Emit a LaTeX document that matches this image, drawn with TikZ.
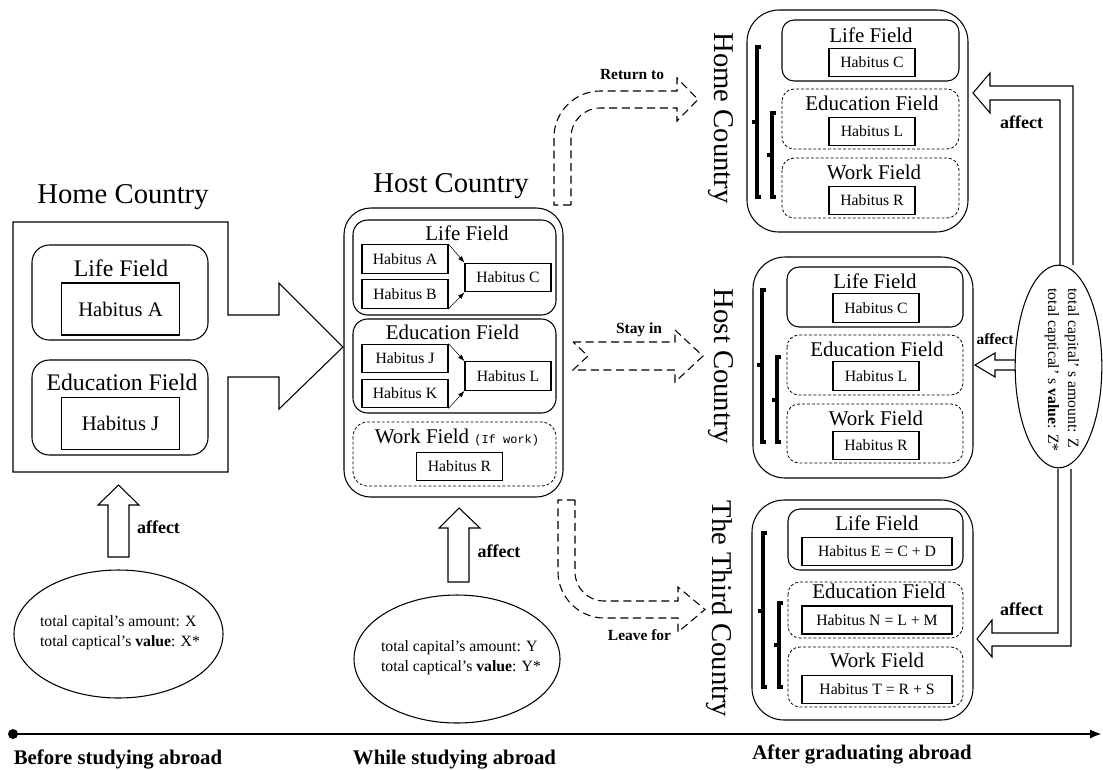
\documentclass[tikz,border=0pt]{standalone}
\usepackage{fontspec}
\setmainfont{Liberation Serif}
\setmonofont{Liberation Mono}
\usetikzlibrary{arrows.meta,shapes.geometric,positioning}

\begin{document}
\begin{tikzpicture}[x=0.75pt,y=-0.75pt,
    line width=0.8pt,
    ttl/.style={font=\fontsize{21.5}{24}\selectfont,anchor=base},
    bigfld/.style={font=\fontsize{17.8}{20}\selectfont,anchor=base},
    fld/.style={font=\fontsize{15.7}{18}\selectfont,anchor=base},
    fieldbox/.style={draw,rounded corners=9pt},
    dfieldbox/.style={draw,rounded corners=9pt,dash pattern=on 2.2pt off 1.5pt,
                      line width=0.6pt},
    hab/.style={draw,inner sep=0pt,minimum width=64.5pt,minimum height=21.5pt,
                font=\fontsize{11.8}{13}\selectfont},
    bighab/.style={hab,minimum width=89pt,minimum height=39pt,
                   font=\fontsize{15.5}{17}\selectfont},
    widehab/.style={hab,minimum width=112.5pt,minimum height=21pt},
    merge/.style={-{Latex[length=5pt,width=3.5pt]},line width=0.4pt},
    capt/.style={font=\fontsize{11.8}{15}\selectfont,align=left},
    oval/.style={draw,ellipse,inner sep=0pt},
    lbl/.style={font=\bfseries\fontsize{13.5}{15}\selectfont,anchor=base},
    mv/.style={font=\bfseries\fontsize{11.6}{13}\selectfont,anchor=base},
    phase/.style={font=\bfseries\fontsize{15.6}{18}\selectfont,anchor=base},
    blk/.style={draw,line width=0.8pt},
    dblk/.style={draw,dash pattern=on 6pt off 3.5pt,line width=0.8pt},
    brk/.style={draw,line width=2.3pt}
  ]
  \useasboundingbox (0,0) rectangle (1103,769);

  % before studying abroad
  \node[ttl] (homeT) at (123,203) {Home Country};
  \draw[blk] (13,222) -- (228,222) -- (228,315) -- (279,315) -- (279,283)
    -- (343,347) -- (279,409) -- (279,377) -- (228,377) -- (228,472)
    -- (13,472) -- cycle;
  \draw[fieldbox,rounded corners=13pt] (32,245) rectangle (208,340);
  \node[bigfld] (homeLife) at (121,276) {Life Field};
  \node[bighab] (homeA) at (120.5,309) {Habitus A};
  \draw[fieldbox,rounded corners=13pt] (32,360) rectangle (208,455);
  \node[bigfld] (homeEdu) at (122,390) {Education Field};
  \node[bighab] (homeJ) at (120.5,423.5) {Habitus J};

  \draw[blk] (108,557) -- (108,505) -- (98,505) -- (118.5,485) -- (139,505)
    -- (129,505) -- (129,557) -- cycle;
  \node[lbl] (affX) at (158.5,533) {affect};
  \node[oval,minimum width=156.75pt,minimum height=96pt] (capX) at (118.5,634) {};
  \node[capt] (capXt) at (120,633)
    {total capital’s amount: X\\total captical’s \textbf{value}: X*};

  % while studying abroad
  \node[ttl] (hostT) at (451,192) {Host Country};
  \draw[fieldbox,rounded corners=20pt] (344,208) rectangle (563,497);
  \draw[fieldbox,rounded corners=11pt] (353,220) rectangle (556,315);
  \node[fld] (hostLife) at (467,240) {Life Field};
  \node[hab] (hA) at (405,259) {Habitus A};
  \node[hab] (hB) at (405,294) {Habitus B};
  \node[hab] (hC) at (508,277.5) {Habitus C};
  \draw[merge] (hA.north east) -- (hC.north west);
  \draw[merge] (hB.south east) -- (hC.south west);
  \draw[fieldbox,rounded corners=11pt] (353,319) rectangle (556,413);
  \node[fld] (hostEdu) at (452.5,339) {Education Field};
  \node[hab] (hJ) at (405,358.5) {Habitus J};
  \node[hab] (hK) at (405,393.5) {Habitus K};
  \node[hab] (hL) at (508,376) {Habitus L};
  \draw[merge] (hJ.north east) -- (hL.north west);
  \draw[merge] (hK.south east) -- (hL.south west);
  \draw[dfieldbox,rounded corners=11pt] (353,422) rectangle (556,486);
  \node[fld] (hostWork) at (457,443)
    {Work Field {\ttfamily\fontsize{9}{10}\selectfont(If work)}};
  \node[hab] (hR) at (459.5,466.5) {Habitus R};

  \draw[blk] (448,582) -- (448,528) -- (439,528) -- (459,508) -- (480,528)
    -- (469,528) -- (469,582) -- cycle;
  \node[lbl] (affY) at (499,557) {affect};
  \node[oval,minimum width=154.5pt,minimum height=96pt] (capY) at (457,659) {};
  \node[capt] (capYt) at (461,658)
    {total capital’s amount: Y\\total captical’s \textbf{value}: Y*};

  % three ways out
  \draw[dblk] (571,205) -- (554,205) -- (554,137)
    .. controls (554,112) and (575,91) .. (600,91) -- (677,91) -- (677,78)
    -- (698,99.5) -- (677,121) -- (677,108) -- (600,108)
    .. controls (584,108) and (571,121) .. (571,137) -- cycle;
  \node[mv] (retL) at (632,79) {Return to};
  \draw[dblk] (573,342) -- (675,342) -- (675,330) -- (703,356) -- (675,382)
    -- (675,370) -- (573,370) -- (588,356) -- cycle;
  \node[mv] (stayL) at (639,333) {Stay in};
  \draw[dblk] (575,500) -- (558,500) -- (558,572)
    .. controls (558,597) and (579,618) .. (604,618) -- (678,618) -- (678,632)
    -- (705,609.5) -- (678,587) -- (678,601) -- (604,601)
    .. controls (588,601) and (575,588) .. (575,572) -- cycle;
  \node[mv] (leaveL) at (639.5,640) {Leave for};

  % after graduating abroad: home country
  \node[ttl,rotate=-90] (retT) at (714,118) {Home Country};
  \draw[fieldbox,rounded corners=24pt] (747,10) rectangle (968,232);
  \draw[fieldbox] (782,20) rectangle (959,81);
  \node[fld] (r1Life) at (871,42) {Life Field};
  \node[hab] (r1C) at (872,62.5) {Habitus C};
  \draw[dfieldbox] (782,89) rectangle (959,149);
  \node[fld] (r1Edu) at (872,110) {Education Field};
  \node[hab] (r1L) at (872,131.5) {Habitus L};
  \draw[dfieldbox] (782,158) rectangle (959,218);
  \node[fld] (r1Work) at (874,179) {Work Field};
  \node[hab] (r1R) at (872,200.5) {Habitus R};
  \draw[brk] (761,47) -- (757,47) -- (757,197) -- (761,197) (757,122) -- (752,122);
  \draw[brk] (776,113) -- (772,113) -- (772,197) -- (776,197) (772,155) -- (767,155);

  % host country
  \node[ttl,rotate=-90] (stayT) at (714,366.5) {Host Country};
  \draw[fieldbox,rounded corners=24pt] (753,257) rectangle (973,478);
  \draw[fieldbox] (787,267) rectangle (963,327);
  \node[fld] (r2Life) at (875,288) {Life Field};
  \node[hab] (r2C) at (876,308) {Habitus C};
  \draw[dfieldbox] (787,335) rectangle (963,395);
  \node[fld] (r2Edu) at (877,356) {Education Field};
  \node[hab] (r2L) at (876,376) {Habitus L};
  \draw[dfieldbox] (787,404) rectangle (963,463);
  \node[fld] (r2Work) at (876,425) {Work Field};
  \node[hab] (r2R) at (876,445.5) {Habitus R};
  \draw[brk] (766,290) -- (762,290) -- (762,442) -- (766,442) (762,365) -- (757,365);
  \draw[brk] (781,357) -- (777,357) -- (777,442) -- (781,442) (777,400) -- (772,400);

  % the third country
  \node[ttl,rotate=-90] (leaveT) at (712,609) {The Third Country};
  \draw[fieldbox,rounded corners=24pt] (752,500) rectangle (973,720);
  \draw[fieldbox] (788,509) rectangle (963,570);
  \node[fld] (r3Life) at (877,530) {Life Field};
  \node[widehab] (r3E) at (877,551.5) {Habitus E = C + D};
  \draw[dfieldbox] (788,582) rectangle (963,638);
  \node[fld] (r3Edu) at (879,598) {Education Field};
  \node[widehab] (r3N) at (877,620) {Habitus N = L + M};
  \draw[dfieldbox] (788,647) rectangle (963,707);
  \node[fld] (r3Work) at (877,667) {Work Field};
  \node[widehab] (r3T) at (877,689.5) {Habitus T = R + S};
  \draw[brk] (767,533) -- (763,533) -- (763,687) -- (767,687) (763,611) -- (758,611);
  \draw[brk] (783,603) -- (779,603) -- (779,687) -- (783,687) (779,645) -- (774,645);

  % capital after graduating
  \node[oval,minimum width=65pt,minimum height=152pt] (capZ) at (1058.5,366.5) {};
  \node[capt,rotate=-90] (capZt) at (1062,370)
    {total capital’ s amount: Z\\total captical’ s \textbf{value}: Z*};
  \draw[blk] (1060,265) -- (1060,100) -- (990,100) -- (990,113) -- (973,93)
    -- (990,73) -- (990,86) -- (1073,86) -- (1073,265);
  \node[lbl] (affZ1) at (1021.5,128) {affect};
  \draw[blk] (1015,360) -- (995,360) -- (995,353) -- (975,365) -- (995,377)
    -- (995,370) -- (1015,370);
  \node[mv] (affZ2) at (995,344) {affect};
  \draw[blk] (1058,469) -- (1058,633) -- (992,633) -- (992,620) -- (977,639)
    -- (992,657) -- (992,646) -- (1071,646) -- (1071,469);
  \node[lbl] (affZ3) at (1021.5,615) {affect};

  % time line
  \node[circle,fill,inner sep=0pt,minimum size=7.5pt] (t0) at (13,734) {};
  \coordinate (tEnd) at (1102,734);
  \draw[line width=2.2pt,-{Latex[length=9pt,width=7pt]}] (t0.center) -- (tEnd);
  \node[phase] (ph1) at (118,764) {Before studying abroad};
  \node[phase] (ph2) at (454.5,764) {While studying abroad};
  \node[phase] (ph3) at (862,759) {After graduating abroad};
\end{tikzpicture}
\end{document}
